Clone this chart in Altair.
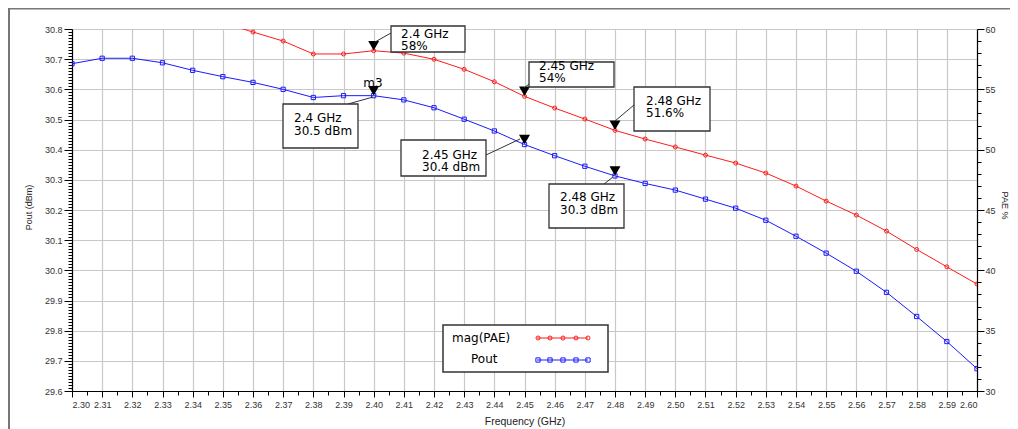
import altair as alt
import pandas as pd

# ---------------- data ----------------
freq = [2.30, 2.31, 2.32, 2.33, 2.34, 2.35, 2.36, 2.37, 2.38, 2.39, 2.40,
        2.41, 2.42, 2.43, 2.44, 2.45, 2.46, 2.47, 2.48, 2.49, 2.50,
        2.51, 2.52, 2.53, 2.54, 2.55, 2.56, 2.57, 2.58, 2.59, 2.60]
pout = [30.685, 30.703, 30.703, 30.688, 30.663, 30.642, 30.623, 30.600, 30.573, 30.579, 30.579,
        30.565, 30.539, 30.501, 30.462, 30.417, 30.380, 30.345, 30.313, 30.288, 30.266,
        30.236, 30.206, 30.166, 30.113, 30.057, 29.997, 29.927, 29.847, 29.764, 29.674]
pae_freq = [2.35, 2.36, 2.37, 2.38, 2.39, 2.40,
            2.41, 2.42, 2.43, 2.44, 2.45, 2.46, 2.47, 2.48, 2.49, 2.50,
            2.51, 2.52, 2.53, 2.54, 2.55, 2.56, 2.57, 2.58, 2.59, 2.60]
pae = [60.5, 59.75, 59.0, 57.93, 57.93, 58.2,
       58.0, 57.49, 56.66, 55.63, 54.42, 53.45, 52.54, 51.6, 50.88, 50.22,
       49.55, 48.89, 48.06, 46.98, 45.74, 44.58, 43.25, 41.73, 40.29, 38.86]
marker_freq = [2.40, 2.45, 2.48]
marker_pout = [30.579, 30.417, 30.313]
marker_pae = [58.2, 54.42, 51.6]
freq_labels = ["2.4 GHz", "2.45 GHz", "2.48 GHz"]
pae_labels = ["58%", "54%", "51.6%"]
pout_labels = ["30.5 dBm", "30.4 dBm", "30.3 dBm"]
legend_labels = ["mag(PAE)", "Pout"]

# ---------------- style ----------------
RED = "#ff1a1a"
BLUE = "#1a1aff"
GRID = "#c8c8c8"
TXT = "DejaVu Sans"
AXF = "Liberation Sans"
OX, OY = 72, 29          # page position of plot origin
W, H = 905, 362
CANVAS_W, CANVAS_H = 1002, 421

pout_df = pd.DataFrame({"freq": freq, "pout": pout})
pae_df = pd.DataFrame({"freq": pae_freq, "pae": pae})
mk_pout_df = pd.DataFrame({"freq": marker_freq, "pout": marker_pout})
mk_pae_df = pd.DataFrame({"freq": marker_freq, "pae": marker_pae})
one = pd.DataFrame({"k": [0]})

# ---------------- axes ----------------
x_vals = [round(2.30 + 0.005 * i, 3) for i in range(61)]
x_major = "abs(datum.value*100 - round(datum.value*100)) < 0.01"
x_axis = alt.Axis(
    values=x_vals,
    labelExpr=f"{x_major} ? format(datum.value, '.2f') : ''",
    labelOverlap=False,
    grid=True,
    gridOpacity={"condition": {"test": x_major, "value": 1}, "value": 0},
    tickSize={"condition": {"test": x_major, "value": 6}, "value": 4},
    labelPadding=3,
    title="Frequency (GHz)",
    titleFont=AXF, titleFontSize=10.5, titleFontWeight="normal", titleColor="#222",
    titleBaseline="middle", titleY=30,
)
yl_vals = [round(29.6 + 0.01 * i, 2) for i in range(121)]
yl_major = "abs(datum.value*10 - round(datum.value*10)) < 0.01"
left_axis = alt.Axis(
    orient="left",
    values=yl_vals,
    labelExpr=f"{yl_major} ? format(datum.value, '.1f') : ''",
    labelOverlap=False,
    grid=True,
    gridOpacity={"condition": {"test": yl_major, "value": 1}, "value": 0},
    tickSize={"condition": {"test": yl_major, "value": 8}, "value": 4},
    labelPadding=2,
    title="Pout (dBm)",
    titleFont=AXF, titleFontSize=9, titleFontWeight="normal", titleColor="#222",
    titleX=-44, titleY=H / 2 - 3, titleAngle=270, titleBaseline="middle", titleAlign="center",
)
yr_vals = list(range(30, 61))
yr_major = "datum.value % 5 == 0"
right_axis = alt.Axis(
    orient="right",
    values=yr_vals,
    labelExpr=f"{yr_major} ? format(datum.value, 'd') : ''",
    labelOverlap=False,
    grid=False,
    tickSize={"condition": {"test": yr_major, "value": 7}, "value": 4},
    labelPadding=1,
    title="PAE %",
    titleFont=AXF, titleFontSize=9, titleFontWeight="normal", titleColor="#222",
    titleX=27, titleY=H / 2 - 5, titleAngle=90, titleBaseline="middle", titleAlign="center",
)

x_enc = alt.X("freq:Q", scale=alt.Scale(domain=[2.30, 2.60], nice=False, zero=False), axis=x_axis)
y_pout = alt.Y("pout:Q", scale=alt.Scale(domain=[29.6, 30.8], nice=False, zero=False), axis=left_axis)
y_pae = alt.Y("pae:Q", scale=alt.Scale(domain=[30, 60], nice=False, zero=False), axis=right_axis)

# ---------------- series ----------------
pout_layer = alt.layer(
    alt.Chart(pout_df).mark_line(color=BLUE, strokeWidth=1, clip=True).encode(x=x_enc, y=y_pout),
    alt.Chart(pout_df).mark_point(shape="square", size=18, color=BLUE, filled=False,
                                  strokeWidth=1, opacity=1, clip=True).encode(x=x_enc, y=y_pout),
    alt.Chart(mk_pout_df).mark_point(shape="triangle-down", size=121, filled=True, color="black",
                                     opacity=1, yOffset=-5).encode(x=x_enc, y=y_pout),
)
pae_layer = alt.layer(
    alt.Chart(pae_df).mark_line(color=RED, strokeWidth=1, clip=True).encode(x=x_enc, y=y_pae),
    alt.Chart(pae_df).mark_point(shape="circle", size=16, color=RED, filled=False,
                                 strokeWidth=1, opacity=1, clip=True).encode(x=x_enc, y=y_pae),
    alt.Chart(mk_pae_df).mark_point(shape="triangle-down", size=121, filled=True, color="black",
                                    opacity=1, yOffset=-5).encode(x=x_enc, y=y_pae),
)


# ---------------- annotation helpers (pixel layout) ----------------
def px(x):
    return alt.value(x - OX)


def py(y):
    return alt.value(y - OY)


def box(x0, y0, x1, y1, sw=1.3):
    return alt.Chart(one).mark_rect(fill="white", stroke="#333", strokeWidth=sw).encode(
        x=px(x0), x2=px(x1), y=py(y0), y2=py(y1))


def text(x, y, s, size=12, align="left"):
    return alt.Chart(one).mark_text(align=align, baseline="middle", font=TXT, fontSize=size,
                                    color="black").encode(x=px(x), y=py(y), text=alt.value(s))


def seg(x0, y0, x1, y1, color="#333", w=1):
    return alt.Chart(one).mark_rule(color=color, strokeWidth=w).encode(
        x=px(x0), y=py(y0), x2=px(x1), y2=py(y1))


def sym(x, y, shape, color, size):
    return alt.Chart(one).mark_point(shape=shape, color=color, filled=False, size=size,
                                     strokeWidth=1, opacity=1).encode(x=px(x), y=py(y))


ann = []
# PAE readouts
ann += [seg(391, 33, 375, 42), box(391, 26, 465, 52),
        text(401, 33.5, freq_labels[0]), text(401, 45.5, pae_labels[0])]
ann += [seg(529, 84, 524, 88), box(529, 62, 614, 87),
        text(539, 66, freq_labels[1]), text(539, 78, pae_labels[1])]
ann += [seg(634, 105, 615, 121), box(634, 87, 710, 131),
        text(646, 101, freq_labels[2]), text(646, 113, pae_labels[2])]
# Pout readouts
ann += [seg(348, 104, 373, 97), box(283, 104, 358, 148),
        text(294, 118, freq_labels[0]), text(294, 130.5, pout_labels[0])]
ann += [seg(486, 155, 520, 139), box(401, 140, 486, 176),
        text(422, 154.5, freq_labels[1]), text(422, 166.5, pout_labels[1])]
ann += [seg(604, 184, 613, 177), box(549, 184, 624, 228),
        text(560, 197, freq_labels[2]), text(560, 209.5, pout_labels[2])]
ann += [text(373, 83, "m3", align="center")]

# legend
ann += [box(443, 325, 608, 372, sw=1.5),
        text(452, 338, legend_labels[0]), text(471, 359, legend_labels[1]),
        seg(537, 338, 588, 338, color=RED), seg(537, 360, 588, 360, color=BLUE)]
for lx in [538, 550, 563, 576, 588]:
    ann.append(sym(lx, 338, "circle", RED, 16))
    ann.append(sym(lx, 360, "square", BLUE, 18))

# outer frame (ADS window border: top and left)
frame = [seg(9, 8, 9, 8 + CANVAS_H, color="#777", w=2), seg(8, 8.5, 8 + CANVAS_W, 8.5, color="#777", w=2)]

chart = alt.layer(pout_layer, pae_layer, *ann, *frame).resolve_scale(y="independent").properties(
    width=W, height=H,
    autosize=alt.AutoSizeParams(type="none"),
    padding={"left": OX - 8, "top": OY - 8, "right": CANVAS_W - (OX - 8) - W,
             "bottom": CANVAS_H - (OY - 8) - H},
    background="white",
).configure_view(
    stroke="#888", strokeWidth=1,
).configure_axis(
    labelFont=AXF, labelFontSize=9, labelColor="#333",
    domainColor="black", domainWidth=1.2, tickColor="black", tickWidth=1,
    gridColor=GRID, gridWidth=1.2,
)

chart.save("out.html", embed_options={"renderer": "svg", "actions": False})
